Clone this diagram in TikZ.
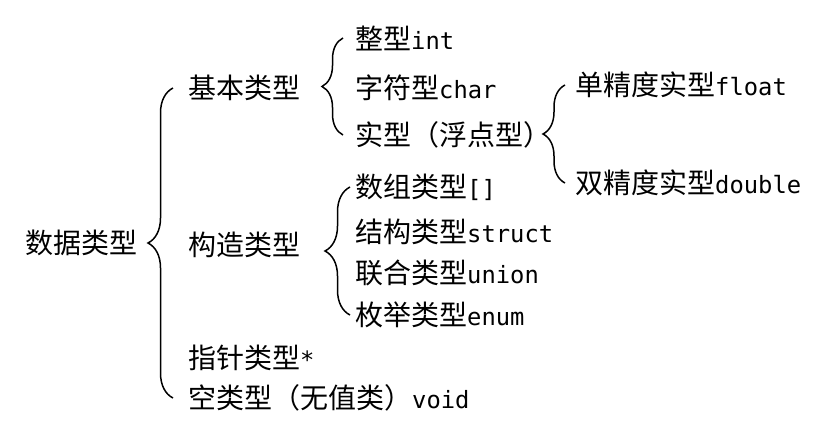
\documentclass[tikz,border=0pt]{standalone}
\usepackage{fontspec}
\setmainfont{DejaVu Sans Mono}[Scale=0.85]
\newfontfamily\cjk{Noto Sans CJK SC}
\usetikzlibrary{decorations.pathreplacing}
\newcommand{\zh}[1]{{\cjk #1}}
\tikzset{
  lbl/.style={anchor=west, inner sep=0pt, font=\fontsize{28}{32}\selectfont},
  brc/.style={decorate, decoration={brace, amplitude=#1}, line width=1.5pt},
}
\begin{document}
\begin{tikzpicture}[x=1pt,y=-1pt]
\useasboundingbox[fill=white] (0,0) rectangle (838,424);
% first level
\node[lbl] (root) at (25,243) {\zh{数据类型}};
\node[lbl] (basic) at (188,88) {\zh{基本类型}};
\node[lbl] (built) at (188,245) {\zh{构造类型}};
\node[lbl] (tptr) at (188,358) {\zh{指针类型}*};
\node[lbl] (tvoid) at (188,398) {\zh{空类型（无值类）}void};
% basic types
\node[lbl] (tint) at (355,38) {\zh{整型}int};
\node[lbl] (tchar) at (355,88) {\zh{字符型}char};
\node[lbl] (treal) at (355,135) {\zh{实型（浮点型）}};
\node[lbl] (tfloat) at (575,85) {\zh{单精度实型}float};
\node[lbl] (tdouble) at (575,183) {\zh{双精度实型}double};
% built types
\node[lbl] (tarray) at (355,187) {\zh{数组类型}[]};
\node[lbl] (tstruct) at (355,232) {\zh{结构类型}struct};
\node[lbl] (tunion) at (355,273) {\zh{联合类型}union};
\node[lbl] (tenum) at (355,315) {\zh{枚举类型}enum};
% braces
\draw[brc=25pt] ([xshift=-15pt]tvoid.west) -- ([xshift=-15pt]basic.west);
\draw[brc=21pt] ([xshift=-12pt]treal.west) -- ([xshift=-12pt]tint.west);
\draw[brc=22pt] ([xshift=-10pt]tdouble.west) -- ([xshift=-10pt]tfloat.west);
\draw[brc=25pt] ([xshift=-5pt]tenum.west) -- ([xshift=-5pt]tarray.west);
\end{tikzpicture}
\end{document}
